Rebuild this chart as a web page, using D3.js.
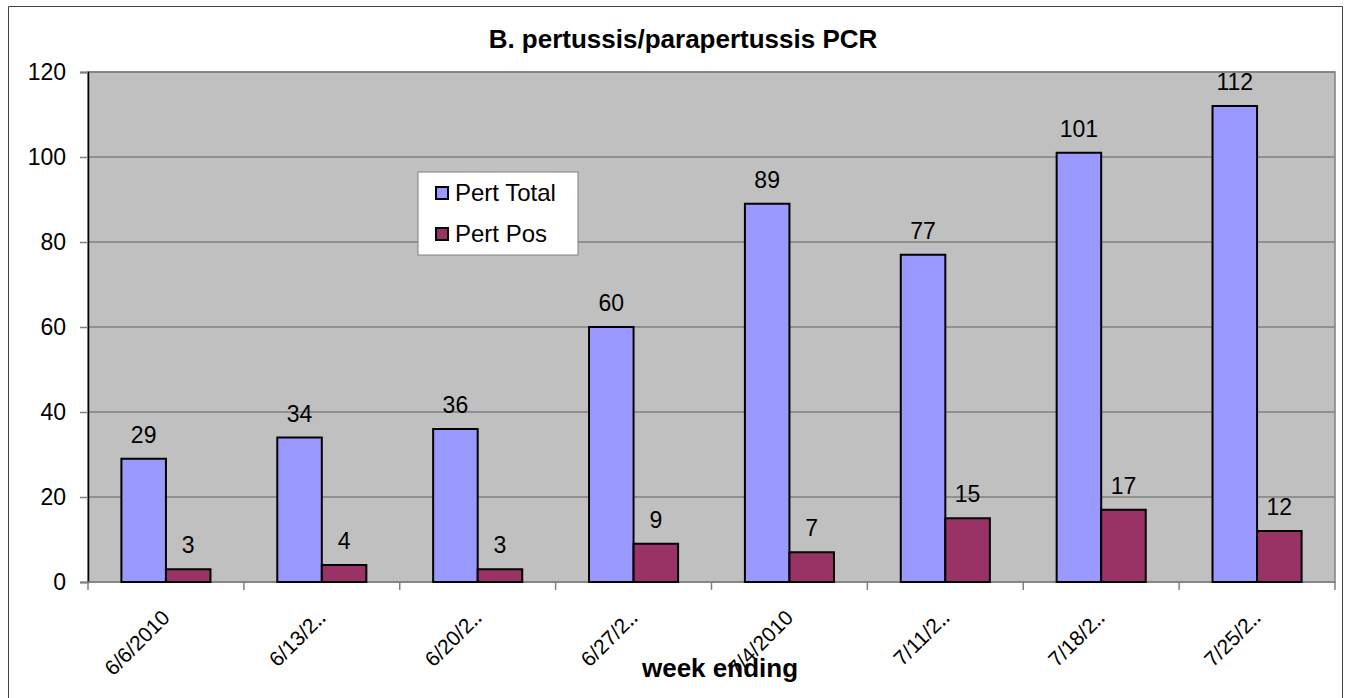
<!DOCTYPE html>
<html>
<head>
<meta charset="utf-8">
<script src="https://cdn.jsdelivr.net/npm/d3@7"></script>
<style>
  body { margin: 0; background: #fff; }
  svg { display: block; font-family: "Liberation Sans", Arial, sans-serif; }
</style>
</head>
<body>
<svg id="chart"></svg>
<script>
// week ending labels as shown on the axis
const weeks = ["6/6/2010", "6/13/2\u2025", "6/20/2\u2025", "6/27/2\u2025", "7/4/2010", "7/11/2\u2025", "7/18/2\u2025", "7/25/2\u2025"]
const pertTotal = [29, 34, 36, 60, 89, 77, 101, 112]
const pertPos = [3, 4, 3, 9, 7, 15, 17, 12]
const seriesNames = ["Pert Total", "Pert Pos"]
const seriesColors = ["#9999FF", "#993366"]
const yTicks = [0, 20, 40, 60, 80, 100, 120]

const width = 1345
const height = 698

// plot area inside the outer frame
const margin = { top: 72, right: 10, bottom: 116, left: 88 }
const innerWidth = width - margin.left - margin.right
const innerHeight = height - margin.top - margin.bottom

const svg = d3.select('#chart')
    .attr('width', width)
    .attr('height', height)

// outer chart frame, its bottom edge is below the picture so only three sides show
svg.append('path')
    .attr('d', `M8.5,${height} V6.5 H1342.5 V${height}`)
    .attr('fill', 'none')
    .attr('stroke', '#444')
    .attr('stroke-width', 1)

const x0 = d3.scaleBand()
    .domain(weeks)
    .range([0, innerWidth])

// excel style: gap width 150% -> 0.75 bar on each side
const x1 = d3.scaleBand()
    .domain(seriesNames)
    .range([0, x0.bandwidth()])
    .paddingOuter(0.75)
    .paddingInner(0)

const y = d3.scaleLinear()
    .domain([0, 120])
    .range([innerHeight, 0])

const g = svg.append('g')
    .attr('transform', `translate(${margin.left}, ${margin.top})`)

// plot background
g.append('rect')
    .attr('width', innerWidth)
    .attr('height', innerHeight)
    .attr('fill', '#C0C0C0')
    .attr('stroke', '#808080')
    .attr('stroke-width', 1.5)

// gridlines
g.selectAll('.grid')
    .data(yTicks.filter(d => d > 0))
    .enter()
    .append('line')
        .attr('x1', 0).attr('x2', innerWidth)
        .attr('y1', d => y(d)).attr('y2', d => y(d))
        .attr('stroke', '#808080')
        .attr('stroke-width', 1.5)

// y axis
const yAxis = d3.axisLeft(y)
    .tickValues(yTicks)
    .tickSize(8)
    .tickPadding(14)

const yAxisG = g.append('g').call(yAxis)
yAxisG.attr('font-family', null)
yAxisG.select('.domain').attr('stroke', '#000').attr('stroke-width', 1.5)
yAxisG.selectAll('line').attr('stroke', '#808080').attr('stroke-width', 1.5)
yAxisG.selectAll('text')
    .attr('font-size', 23)
    .attr('fill', '#000')

// x axis baseline and boundary ticks
const xAxisG = g.append('g').attr('transform', `translate(0, ${innerHeight})`)
xAxisG.append('line')
    .attr('x1', 0).attr('x2', innerWidth)
    .attr('stroke', '#808080').attr('stroke-width', 1.5)
xAxisG.selectAll('.bound')
    .data(weeks.concat(['end']))
    .enter()
    .append('line')
        .attr('x1', (d, i) => i < weeks.length ? x0(d) : innerWidth)
        .attr('x2', (d, i) => i < weeks.length ? x0(d) : innerWidth)
        .attr('y1', 0).attr('y2', 8)
        .attr('stroke', '#808080').attr('stroke-width', 1.5)

xAxisG.selectAll('.xlabel')
    .data(weeks)
    .enter()
    .append('text')
        .attr('transform', d => `translate(${x0(d) + x0.bandwidth() / 2 + 5}, 37) rotate(-45)`)
        .attr('text-anchor', 'end')
        .attr('font-size', 21)
        .text(d => d)

// bars
const rows = weeks.map((w, i) => ({ week: w, values: [pertTotal[i], pertPos[i]] }))

const groups = g.selectAll('.group')
    .data(rows)
    .enter()
    .append('g')
        .attr('transform', d => `translate(${x0(d.week)}, 0)`)

groups.selectAll('rect')
    .data(d => d.values.map((v, j) => ({ name: seriesNames[j], value: v, color: seriesColors[j] })))
    .enter()
    .append('rect')
        .attr('x', d => x1(d.name))
        .attr('y', d => y(d.value))
        .attr('width', x1.bandwidth())
        .attr('height', d => innerHeight - y(d.value))
        .attr('fill', d => d.color)
        .attr('stroke', '#000')
        .attr('stroke-width', 2)

groups.selectAll('.label')
    .data(d => d.values.map((v, j) => ({ name: seriesNames[j], value: v })))
    .enter()
    .append('text')
        .attr('x', d => x1(d.name) + x1.bandwidth() / 2)
        .attr('y', d => y(d.value) - 16)
        .attr('text-anchor', 'middle')
        .attr('font-size', 23)
        .text(d => d.value)

// title
svg.append('text')
    .attr('x', 683)
    .attr('y', 48)
    .attr('text-anchor', 'middle')
    .attr('font-size', 26)
    .attr('font-weight', 'bold')
    .text('B. pertussis/parapertussis PCR')

// x axis title
svg.append('text')
    .attr('x', 720)
    .attr('y', 677)
    .attr('text-anchor', 'middle')
    .attr('font-size', 26)
    .attr('font-weight', 'bold')
    .text('week ending')

// legend
const legend = svg.append('g').attr('transform', 'translate(418, 172)')
legend.append('rect')
    .attr('width', 160).attr('height', 83)
    .attr('fill', '#fff')
    .attr('stroke', '#808080')
    .attr('stroke-width', 1)

const legendItems = legend.selectAll('.item')
    .data(seriesNames)
    .enter()
    .append('g')
        .attr('transform', (d, i) => `translate(18, ${15 + i * 41})`)

legendItems.append('rect')
    .attr('width', 12).attr('height', 12)
    .attr('fill', (d, i) => seriesColors[i])
    .attr('stroke', '#000')
    .attr('stroke-width', 2)

legendItems.append('text')
    .attr('x', 19)
    .attr('y', 14)
    .attr('font-size', 24)
    .text(d => d)
</script>
</body>
</html>
